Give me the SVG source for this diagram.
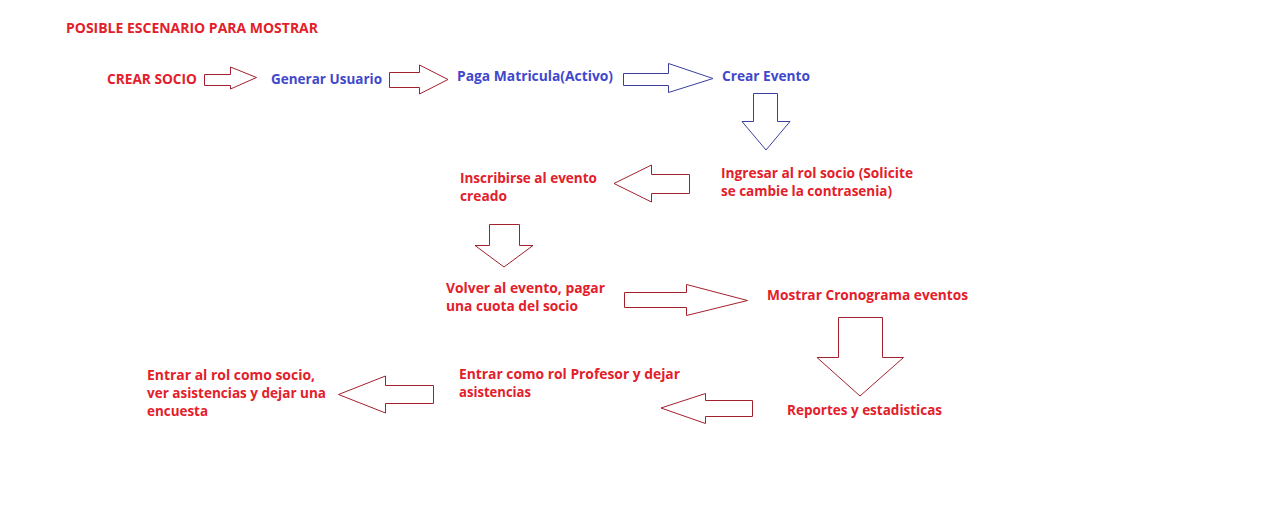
<svg xmlns="http://www.w3.org/2000/svg" width="1265" height="522" viewBox="0 0 1265 522">
<style>
text{font-family:"Open Sans","Liberation Sans",sans-serif;font-weight:bold;font-size:13.6px;}
.r{fill:#e3202a;}
.b{fill:#3f48cc;}
.ar{fill:#ffffff;stroke:#a3202e;stroke-width:1;stroke-linejoin:miter;}
.ab{fill:#ffffff;stroke:#3a3f9e;stroke-width:1;stroke-linejoin:miter;}
</style>
<rect x="0" y="0" width="1265" height="522" fill="#ffffff"/>
<g id="title"><text class="r" x="66" y="33" textLength="252" lengthAdjust="spacingAndGlyphs">POSIBLE ESCENARIO PARA MOSTRAR</text></g>
<g id="crear-socio"><text class="r" x="107" y="84" textLength="90" lengthAdjust="spacingAndGlyphs">CREAR SOCIO</text></g>
<g id="generar-usuario"><text class="b" x="271" y="84" textLength="111" lengthAdjust="spacingAndGlyphs">Generar Usuario</text></g>
<g id="paga-matricula"><text class="b" x="457" y="81" textLength="156" lengthAdjust="spacingAndGlyphs">Paga Matricula(Activo)</text></g>
<g id="crear-evento"><text class="b" x="722" y="81" textLength="88" lengthAdjust="spacingAndGlyphs">Crear Evento</text></g>
<g id="ingresar-rol-socio">
<text class="r" x="721" y="178" textLength="192" lengthAdjust="spacingAndGlyphs">Ingresar al rol socio (Solicite</text>
<text class="r" x="721" y="196" textLength="171" lengthAdjust="spacingAndGlyphs">se cambie la contrasenia)</text>
</g>
<g id="inscribirse">
<text class="r" x="460" y="183" textLength="137" lengthAdjust="spacingAndGlyphs">Inscribirse al evento</text>
<text class="r" x="460" y="201" textLength="47" lengthAdjust="spacingAndGlyphs">creado</text>
</g>
<g id="volver-evento">
<text class="r" x="446" y="293" textLength="159" lengthAdjust="spacingAndGlyphs">Volver al evento, pagar</text>
<text class="r" x="446" y="311" textLength="132" lengthAdjust="spacingAndGlyphs">una cuota del socio</text>
</g>
<g id="mostrar-cronograma"><text class="r" x="767" y="300" textLength="201" lengthAdjust="spacingAndGlyphs">Mostrar Cronograma eventos</text></g>
<g id="reportes"><text class="r" x="787" y="415" textLength="155" lengthAdjust="spacingAndGlyphs">Reportes y estadisticas</text></g>
<g id="entrar-profesor">
<text class="r" x="459" y="379" textLength="221" lengthAdjust="spacingAndGlyphs">Entrar como rol Profesor y dejar</text>
<text class="r" x="459" y="397" textLength="72" lengthAdjust="spacingAndGlyphs">asistencias</text>
</g>
<g id="entrar-socio">
<text class="r" x="147" y="380" textLength="168" lengthAdjust="spacingAndGlyphs">Entrar al rol como socio,</text>
<text class="r" x="147" y="398" textLength="179" lengthAdjust="spacingAndGlyphs">ver asistencias y dejar una</text>
<text class="r" x="147" y="416" textLength="61" lengthAdjust="spacingAndGlyphs">encuesta</text>
</g>
<g id="connectors">
<polygon class="ar" points="204.5,74.5 230.5,74.5 230.5,67 256.5,77.5 230.5,89 230.5,85.5 204.5,85.5"/>
<polygon class="ar" points="389.5,72.5 419.5,72.5 419.5,65 448,79.5 419.5,94 419.5,87.5 389.5,87.5"/>
<polygon class="ab" points="623.5,73.5 668.5,73.5 668.5,63.5 713,78.5 668.5,92.5 668.5,85.5 623.5,85.5"/>
<polygon class="ab" points="753.5,93.5 777.5,93.5 777.5,121.5 790,121.5 766,150 742,121.5 753.5,121.5"/>
<polygon class="ar" points="689.5,174.5 689.5,193.5 651.5,193.5 651.5,202 614,183.5 651.5,165 651.5,174.5"/>
<polygon class="ar" points="489.5,224.5 519.5,224.5 519.5,245.5 533,245.5 504,267 475,245.5 489.5,245.5"/>
<polygon class="ar" points="624.5,292.5 686.5,292.5 686.5,284.5 747.5,300.5 686.5,315.5 686.5,307.5 624.5,307.5"/>
<polygon class="ar" points="838.5,317.5 882.5,317.5 882.5,357.5 903.5,357.5 860,396 817,357.5 838.5,357.5"/>
<polygon class="ar" points="752.5,400.5 752.5,416.5 705.5,416.5 705.5,423.5 661,408 705.5,393.5 705.5,400.5"/>
<polygon class="ar" points="433.5,385.5 433.5,403.5 385.5,403.5 385.5,413 338.5,394.5 385.5,376 385.5,385.5"/>
</g>
</svg>
